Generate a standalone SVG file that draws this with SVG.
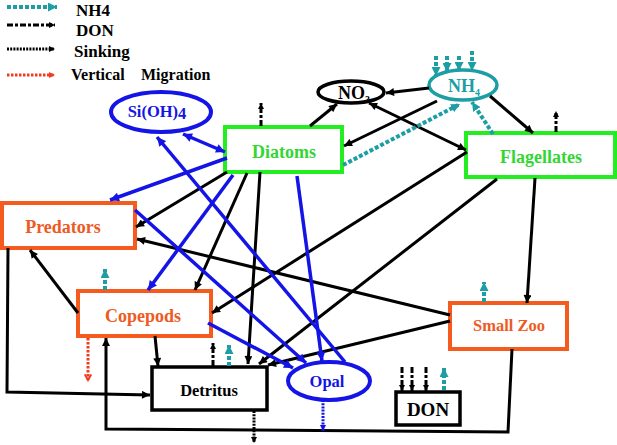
<svg xmlns="http://www.w3.org/2000/svg" width="617" height="445" viewBox="0 0 617 445">
<defs>
<style>
text{font-family:"Liberation Serif","Times New Roman",serif;font-weight:bold}
.k{fill:none;stroke:#000;stroke-width:3}
.b{fill:none;stroke:#1414e6;stroke-width:3.5}
.t{fill:none;stroke:#1c9ea4;stroke-width:4;stroke-dasharray:4 2}
.dd{fill:none;stroke:#000;stroke-width:3;stroke-dasharray:6 2 3 2}
.sk{fill:none;stroke:#000;stroke-width:3;stroke-dasharray:2 1.2}
.bs{fill:none;stroke:#1414e6;stroke-width:3;stroke-dasharray:2 1.2}
.vm{fill:none;stroke:#f03c20;stroke-width:3;stroke-dasharray:2.5 1.5}
.gbox{fill:#fff;stroke:#22ee22;stroke-width:4}
.obox{fill:#fff;stroke:#f55a1e;stroke-width:4}
.kbox{fill:#fff;stroke:#000;stroke-width:3.5}
.gt{fill:#33d633;font-size:18px}
.ot{fill:#ee5a24;font-size:18px}
</style>
<marker id="aK" viewBox="0 0 10 10" refX="10" refY="5" markerUnits="userSpaceOnUse" markerWidth="9" markerHeight="8" orient="auto-start-reverse"><path d="M0,0 L10,5 L0,10 z" fill="#000"/></marker>
<marker id="aKs" viewBox="0 0 10 10" refX="10" refY="5" markerUnits="userSpaceOnUse" markerWidth="6" markerHeight="6" orient="auto"><path d="M0,0 L10,5 L0,10 z" fill="#000"/></marker>
<marker id="aRs" viewBox="0 0 10 10" refX="10" refY="5" markerUnits="userSpaceOnUse" markerWidth="6" markerHeight="6" orient="auto"><path d="M0,0 L10,5 L0,10 z" fill="#f03c20"/></marker>
<marker id="aB" viewBox="0 0 10 10" refX="10" refY="5" markerUnits="userSpaceOnUse" markerWidth="10" markerHeight="9" orient="auto-start-reverse"><path d="M0,0 L10,5 L0,10 z" fill="#1414e6"/></marker>
<marker id="aBs" viewBox="0 0 10 10" refX="10" refY="5" markerUnits="userSpaceOnUse" markerWidth="6" markerHeight="7" orient="auto"><path d="M0,0 L10,5 L0,10 z" fill="#1414e6"/></marker>
<marker id="aT" viewBox="0 0 10 10" refX="10" refY="5" markerUnits="userSpaceOnUse" markerWidth="9" markerHeight="9" orient="auto"><path d="M0,0 L10,5 L0,10 z" fill="#1c9ea4"/></marker>
<marker id="aR" viewBox="0 0 10 10" refX="8" refY="5" markerUnits="userSpaceOnUse" markerWidth="8" markerHeight="9" orient="auto"><path d="M1,1 L8,5 L1,9" fill="none" stroke="#f03c20" stroke-width="2.5"/></marker>
</defs>
<rect width="617" height="445" fill="#fff"/>

<g id="legend">
<line x1="7" y1="7" x2="57" y2="7" class="t" marker-end="url(#aT)"/>
<text x="76" y="16" font-size="17">NH4</text>
<line x1="7" y1="25" x2="55" y2="25" class="dd" marker-end="url(#aKs)"/>
<text x="76" y="36" font-size="17">DON</text>
<line x1="7" y1="49" x2="55" y2="49" class="sk" marker-end="url(#aKs)"/>
<text x="74" y="57" font-size="17">Sinking</text>
<line x1="7" y1="75" x2="55" y2="75" class="vm" marker-end="url(#aRs)"/>
<text x="71" y="80" font-size="16">Vertical</text>
<text x="141" y="80" font-size="16">Migration</text>
</g>

<g id="node-sioh4">
<ellipse cx="161" cy="112" rx="50" ry="20" fill="#fff" stroke="#1414e6" stroke-width="4"/>
<text x="157" y="117" font-size="16.5" fill="#1414e6" text-anchor="middle">Si(OH)<tspan dy="2">4</tspan></text>
</g>
<g id="node-no3">
<ellipse cx="351" cy="92" rx="33" ry="11" fill="#fff" stroke="#000" stroke-width="3.5"/>
<text x="354" y="99" font-size="18" fill="#000" text-anchor="middle">NO<tspan font-size="10" dy="4">3</tspan></text>
</g>
<g id="node-nh4">
<ellipse cx="463" cy="85" rx="34" ry="15" fill="#fff" stroke="#1c9ea4" stroke-width="3.5"/>
<text x="464" y="92" font-size="18" fill="#1c9ea4" text-anchor="middle">NH<tspan font-size="10" dy="4">4</tspan></text>
</g>
<g id="node-diatoms">
<rect x="225" y="127" width="117" height="45" class="gbox"/>
<text x="284" y="158" class="gt" text-anchor="middle">Diatoms</text>
</g>
<g id="node-flagellates">
<rect x="466" y="133" width="149" height="44" class="gbox"/>
<text x="541" y="163" class="gt" text-anchor="middle">Flagellates</text>
</g>
<g id="node-predators">
<rect x="2" y="203" width="133" height="45" class="obox"/>
<text x="63" y="233" class="ot" text-anchor="middle">Predators</text>
</g>
<g id="node-copepods">
<rect x="78" y="291" width="133" height="45" class="obox"/>
<text x="143" y="322" class="ot" text-anchor="middle">Copepods</text>
</g>
<g id="node-smallzoo">
<rect x="450" y="303" width="117" height="46" class="obox"/>
<text x="509" y="331" class="ot" style="font-size:16.5px" text-anchor="middle">Small Zoo</text>
</g>
<g id="node-detritus">
<rect x="152" y="367" width="115" height="43" class="kbox"/>
<text x="209" y="396" font-size="16.5" fill="#000" text-anchor="middle">Detritus</text>
</g>
<g id="node-opal">
<ellipse cx="329" cy="381" rx="41" ry="19" fill="#fff" stroke="#1414e6" stroke-width="4"/>
<text x="327" y="387" font-size="16.5" fill="#1414e6" text-anchor="middle">Opal</text>
</g>
<g id="node-don">
<rect x="396" y="392" width="64" height="33" class="kbox" stroke-width="4"/>
<text x="428" y="416" font-size="19" fill="#000" text-anchor="middle">DON</text>
</g>

<g id="connectors">
<line x1="429" y1="88" x2="386" y2="93" class="k" marker-end="url(#aK)"/>
<line x1="310" y1="126" x2="337" y2="104" class="k" marker-end="url(#aK)"/>
<line x1="369" y1="103" x2="466" y2="150" class="k" marker-start="url(#aK)" marker-end="url(#aK)"/>
<line x1="437" y1="101" x2="344" y2="146" class="k" marker-end="url(#aK)"/>
<line x1="490" y1="96" x2="533" y2="133" class="k" marker-end="url(#aK)"/>
<line x1="467" y1="152" x2="212" y2="313" class="k" marker-end="url(#aK)"/>
<line x1="497" y1="179" x2="259" y2="364" class="k" marker-end="url(#aK)"/>
<line x1="535" y1="178" x2="527" y2="303" class="k" marker-end="url(#aK)"/>
<line x1="227" y1="172" x2="136" y2="227" class="k" marker-end="url(#aK)"/>
<line x1="247" y1="173" x2="195" y2="290" class="k" marker-end="url(#aK)"/>
<line x1="260" y1="172" x2="248" y2="364" class="k" marker-end="url(#aK)"/>
<line x1="78" y1="313" x2="30" y2="250" class="k" marker-end="url(#aK)"/>
<line x1="450" y1="315" x2="137" y2="239" class="k" marker-end="url(#aK)"/>
<line x1="450" y1="321" x2="268" y2="365" class="k" marker-end="url(#aK)"/>
<polyline points="8,248 7,392 150,395" class="k" marker-end="url(#aK)"/>
<line x1="155" y1="336" x2="158" y2="366" class="k" marker-end="url(#aK)"/>
<polyline points="512,349 508,432 106,429 106,338" class="k" marker-end="url(#aK)"/>

<line x1="227" y1="158" x2="110" y2="200" class="b" marker-end="url(#aB)"/>
<line x1="225" y1="152" x2="183" y2="134" class="b" marker-start="url(#aB)" marker-end="url(#aB)"/>
<line x1="345" y1="362" x2="157" y2="137" class="b" marker-end="url(#aB)"/>
<line x1="297" y1="176" x2="322" y2="361" class="b" marker-end="url(#aB)"/>
<line x1="208" y1="323" x2="293" y2="368" class="b" marker-end="url(#aB)"/>
<line x1="135" y1="210" x2="306" y2="363" class="b" marker-end="url(#aB)"/>
<line x1="233" y1="175" x2="148" y2="290" class="b" marker-end="url(#aB)"/>

<line x1="343" y1="165" x2="460" y2="104" class="t" marker-end="url(#aT)"/>
<line x1="493" y1="134" x2="472" y2="102" class="t" marker-end="url(#aT)"/>
<line x1="436" y1="56" x2="436" y2="76" class="t" marker-end="url(#aT)"/>
<line x1="447" y1="56" x2="447" y2="72" class="t" marker-end="url(#aT)"/>
<line x1="459" y1="56" x2="459" y2="71" class="t" marker-end="url(#aT)"/>
<line x1="472" y1="51" x2="472" y2="71" class="t" marker-end="url(#aT)"/>
<line x1="105" y1="290" x2="105" y2="269" class="t" marker-end="url(#aT)"/>
<line x1="229" y1="366" x2="229" y2="345" class="t" marker-end="url(#aT)"/>
<line x1="484" y1="302" x2="484" y2="282" class="t" marker-end="url(#aT)"/>
<line x1="444" y1="390" x2="444" y2="368" class="t" marker-end="url(#aT)"/>

<line x1="261" y1="126" x2="261" y2="103" class="dd" marker-end="url(#aKs)"/>
<line x1="556" y1="132" x2="556" y2="111" class="dd" marker-end="url(#aKs)"/>
<line x1="213" y1="366" x2="213" y2="343" class="dd" marker-end="url(#aKs)"/>
<line x1="402" y1="367" x2="402" y2="391" class="dd" marker-end="url(#aKs)"/>
<line x1="412" y1="367" x2="412" y2="391" class="dd" marker-end="url(#aKs)"/>
<line x1="426" y1="367" x2="426" y2="391" class="dd" marker-end="url(#aKs)"/>

<line x1="254" y1="411" x2="254" y2="443" class="sk" marker-end="url(#aKs)"/>
<line x1="323" y1="400" x2="323" y2="431" class="bs" marker-end="url(#aBs)"/>
<line x1="88" y1="338" x2="88" y2="380" class="vm" marker-end="url(#aR)"/>
</g>
</svg>
